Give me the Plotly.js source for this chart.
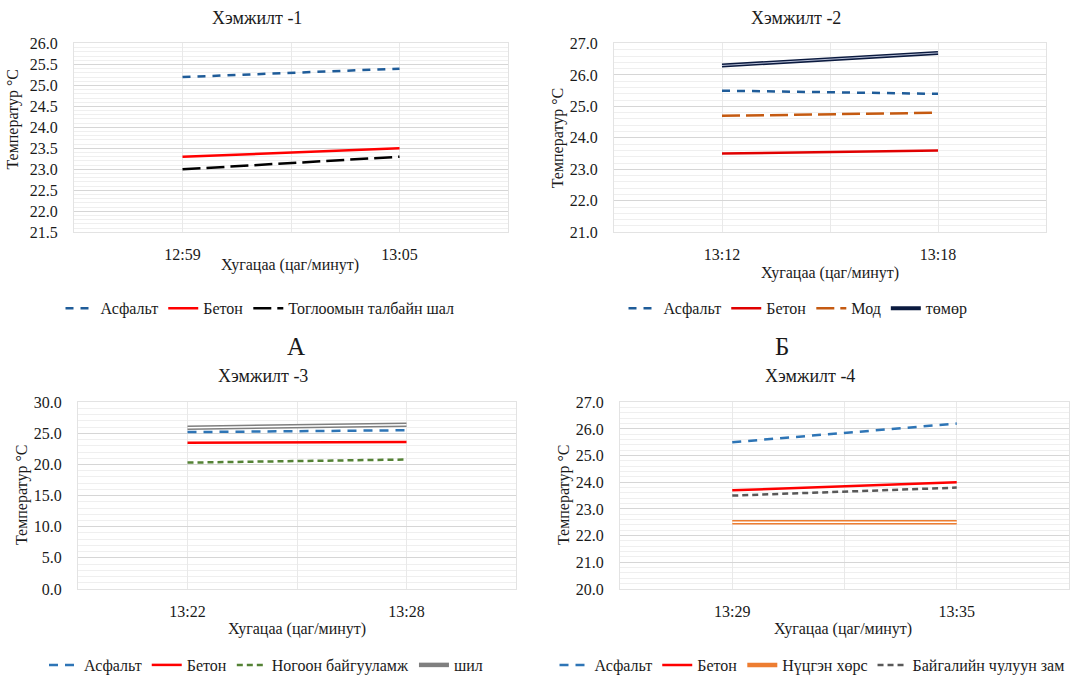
<!DOCTYPE html>
<html>
<head>
<meta charset="utf-8">
<script src="https://cdn.plot.ly/plotly-3.0.1.min.js"></script>
<style>html,body{margin:0;padding:0;background:#fff;}#chart{width:1091px;height:682px;}</style>
</head>
<body>
<div id="chart"></div>
<script>
// ---- data ----
const times1 = ['12:59', '13:05'];
const times2 = ['13:12', '13:18'];
const times3 = ['13:22', '13:28'];
const times4 = ['13:29', '13:35'];

const p1Asphalt = [25.2, 25.4];
const p1Beton = [23.3, 23.5];
const p1Playground = [23.0, 23.3];

const p2Asphalt = [25.5, 25.4];
const p2Beton = [23.5, 23.6];
const p2Wood = [24.7, 24.8];
const p2Iron = [26.3, 26.7];

const p3Asphalt = [25.2, 25.5];
const p3Beton = [23.5, 23.6];
const p3Green = [20.3, 20.8];
const p3Glass = [25.9, 26.4];

const p4Asphalt = [25.5, 26.2];
const p4Beton = [23.7, 24.0];
const p4Soil = [22.5, 22.5];
const p4Stone = [23.5, 23.8];

const seriesNames1 = ['Асфальт', 'Бетон', 'Тоглоомын талбайн шал'];
const seriesNames2 = ['Асфальт', 'Бетон', 'Мод', 'төмөр'];
const seriesNames3 = ['Асфальт', 'Бетон', 'Ногоон байгууламж', 'шил'];
const seriesNames4 = ['Асфальт', 'Бетон', 'Нүцгэн хөрс', 'Байгалийн чулуун зам'];

const panelTitles = ['Хэмжилт -1', 'Хэмжилт -2', 'Хэмжилт -3', 'Хэмжилт -4'];
const xTitle = 'Хугацаа (цаг/минут)';
const yTitle = 'Температур °C';
const letters = ['А', 'Б'];

// ---- helpers ----
const W = 1091, H = 682;
const px = x => x / W;
const py = y => 1 - y / H;
const FONT = '"Liberation Serif", "Times New Roman", serif';
const TXT = '#1a1a1a';
const idx = arr => arr.map((_, i) => i);

function line(xa, ya, leg, name, y, color, width, dash, showlegend) {
  return {
    type: 'scatter', mode: 'lines', x: idx(y), y: y, name: name,
    xaxis: xa, yaxis: ya, legend: leg,
    showlegend: showlegend !== false,
    hoverinfo: 'skip',
    line: {color: color, width: width, dash: dash || 'solid'}
  };
}

const BLUE_D = '#1F5C99', BLUE_L = '#2E75B6', RED = '#FF0000';

const traces = [
  // panel 1
  line('x', 'y', 'legend', seriesNames1[0], p1Asphalt, BLUE_D, 2.5, '8px,7px'),
  line('x', 'y', 'legend', seriesNames1[1], p1Beton, RED, 2.5),
  line('x', 'y', 'legend', seriesNames1[2], p1Playground, '#000000', 2.5, '18px,6px'),
  // panel 2
  line('x2', 'y2', 'legend2', seriesNames2[0], p2Asphalt, BLUE_D, 2.5, '8px,7px'),
  line('x2', 'y2', 'legend2', seriesNames2[1], p2Beton, '#E00000', 2.5),
  line('x2', 'y2', 'legend2', seriesNames2[2], p2Wood, '#C55A11', 2.5, '18px,6px'),
  line('x2', 'y2', 'legend2', seriesNames2[3], p2Iron, '#0B1A3F', 4),
  line('x2', 'y2', 'legend2', seriesNames2[3], p2Iron, '#B8C0D8', 1, 'solid', false),
  // panel 3
  line('x3', 'y3', 'legend3', seriesNames3[0], p3Asphalt, BLUE_L, 2.5, '9px,7px'),
  line('x3', 'y3', 'legend3', seriesNames3[1], p3Beton, RED, 2.5),
  line('x3', 'y3', 'legend3', seriesNames3[2], p3Green, '#548235', 2.5, '6px,4px'),
  line('x3', 'y3', 'legend3', seriesNames3[3], p3Glass, '#7F7F7F', 4.5),
  line('x3', 'y3', 'legend3', seriesNames3[3], p3Glass, '#FFFFFF', 1.5, 'solid', false),
  // panel 4
  line('x4', 'y4', 'legend4', seriesNames4[0], p4Asphalt, BLUE_L, 2.5, '9px,7px'),
  line('x4', 'y4', 'legend4', seriesNames4[1], p4Beton, RED, 2.5),
  line('x4', 'y4', 'legend4', seriesNames4[2], p4Soil, '#ED7D31', 4.5),
  line('x4', 'y4', 'legend4', seriesNames4[2], p4Soil, '#FFFFFF', 1.5, 'solid', false),
  line('x4', 'y4', 'legend4', seriesNames4[3], p4Stone, '#595959', 2.5, '6px,4px')
];

function xaxis(domain, anchor, cats) {
  return {
    domain: domain, anchor: anchor, range: [-0.5, 1.5],
    tickvals: [0, 0.5, 1], ticktext: [cats[0], '', cats[1]],
    showgrid: true, gridcolor: '#e9e9e9', gridwidth: 1,
    zeroline: false, showline: true, mirror: true, linecolor: '#e3e3e3', linewidth: 1,
    ticks: 'outside', ticklen: 8, tickcolor: 'rgba(0,0,0,0)',
    tickfont: {family: FONT, size: 16, color: TXT}, fixedrange: true
  };
}
function yaxis(domain, anchor, range, dtick, minor) {
  return {
    domain: domain, anchor: anchor, range: range, dtick: dtick, tick0: range[0],
    tickformat: '.1f', showgrid: true, gridcolor: '#d6d6d6', gridwidth: 1,
    minor: {dtick: minor, showgrid: true, gridcolor: '#efefef', gridwidth: 1, ticks: ''},
    zeroline: false, showline: true, mirror: true, linecolor: '#e3e3e3', linewidth: 1,
    ticks: 'outside', ticklen: 12, tickcolor: 'rgba(0,0,0,0)',
    tickfont: {family: FONT, size: 16, color: TXT}, fixedrange: true
  };
}
function legend(cx, cy) {
  return {
    orientation: 'h', x: px(cx), xanchor: 'center', y: py(cy), yanchor: 'middle',
    font: {family: FONT, size: 16, color: TXT}, bgcolor: 'rgba(0,0,0,0)',
    itemwidth: 30, traceorder: 'normal'
  };
}
function ann(text, x, y, size, angle) {
  return {
    text: text, x: px(x), y: py(y), xref: 'paper', yref: 'paper',
    xanchor: 'center', yanchor: 'middle', showarrow: false,
    textangle: angle || 0, font: {family: FONT, size: size, color: TXT}
  };
}

const yTop = [py(235), py(44)];
const yBot = [py(596), py(407)];

const layout = {
  width: W, height: H, margin: {l: 0, r: 0, t: 0, b: 0},
  font: {family: FONT, color: TXT},
  paper_bgcolor: '#ffffff', plot_bgcolor: '#ffffff',
  xaxis: xaxis([px(74), px(508)], 'y', times1),
  yaxis: yaxis(yTop, 'x', [21.5, 26.0], 0.5, 0.1),
  xaxis2: xaxis([px(614), px(1046)], 'y2', times2),
  yaxis2: yaxis(yTop, 'x2', [21, 27], 1, 0.2),
  xaxis3: xaxis([px(78), px(516)], 'y3', times3),
  yaxis3: yaxis(yBot, 'x3', [0, 30], 5, 1),
  xaxis4: xaxis([px(620), px(1069)], 'y4', times4),
  yaxis4: yaxis(yBot, 'x4', [20, 27], 1, 0.2),
  legend: legend(260, 312),
  legend2: legend(798, 312),
  legend3: legend(266, 673),
  legend4: legend(812, 673),
  annotations: [
    ann(panelTitles[0], 257, 18, 18),
    ann(panelTitles[1], 796, 18, 18),
    ann(panelTitles[2], 263, 380, 18),
    ann(panelTitles[3], 810, 380, 18),
    ann(letters[0], 296, 351, 25),
    ann(letters[1], 782, 351, 25),
    ann(xTitle, 290, 268, 16),
    ann(xTitle, 830, 276, 16),
    ann(xTitle, 297, 636, 16),
    ann(xTitle, 843, 636, 16),
    ann(yTitle, 13, 121, 16, -90),
    ann(yTitle, 558, 140, 16, -90),
    ann(yTitle, 22, 501, 16, -90),
    ann(yTitle, 564, 501, 16, -90)
  ],
  showlegend: true
};

Plotly.newPlot('chart', traces, layout, {displayModeBar: false, staticPlot: true});
</script>
</body>
</html>
